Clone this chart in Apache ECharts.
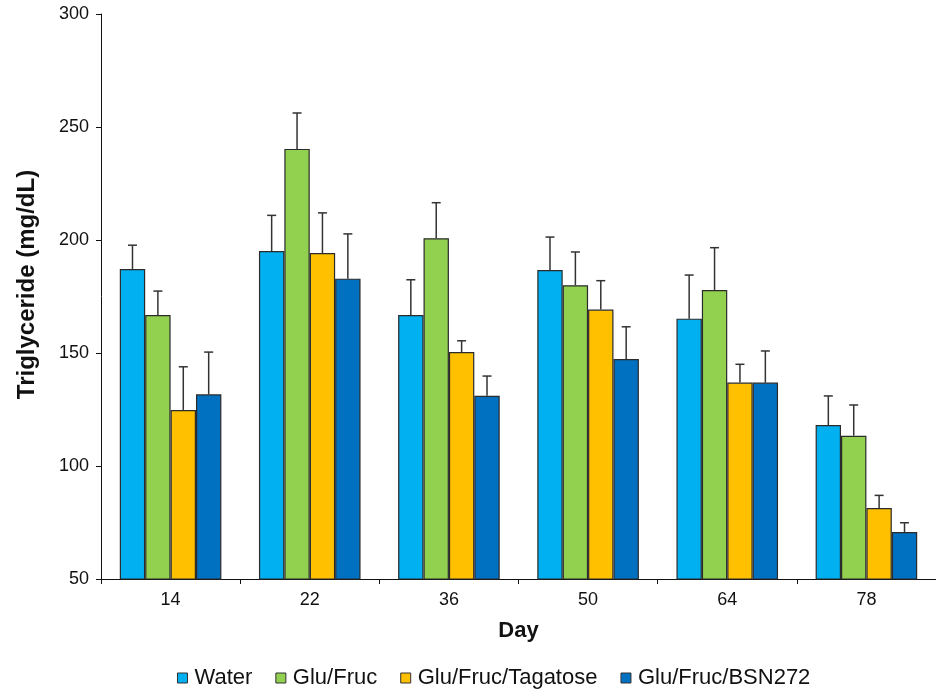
<!DOCTYPE html>
<html>
<head>
<meta charset="utf-8">
<script src="https://cdn.jsdelivr.net/npm/echarts@6/dist/echarts.min.js"></script>
<style>html,body{margin:0;padding:0;background:#fff}#c{width:936px;height:691px}</style>
</head>
<body>
<div id="c"></div>
<script>
const days = ['14', '22', '36', '50', '64', '78'];
const seriesNames = ['Water', 'Glu/Fruc', 'Glu/Fruc/Tagatose', 'Glu/Fruc/BSN272'];
const water = [187.2, 195.1, 166.8, 186.7, 165.2, 118.1];
const gluFruc = [166.8, 240.3, 200.8, 180.0, 177.9, 113.4];
const tagatose = [124.8, 194.2, 150.4, 169.2, 136.9, 81.4];
const bsn272 = [131.7, 182.9, 131.1, 147.3, 136.9, 70.8];
const waterErrTop = [197.7, 210.9, 182.4, 201.3, 184.5, 131.0];
const gluFrucErrTop = [177.4, 256.2, 216.5, 194.7, 196.6, 127.0];
const tagatoseErrTop = [143.9, 212.0, 155.4, 182.0, 145.0, 87.0];
const bsn272ErrTop = [150.4, 202.7, 139.8, 161.6, 150.9, 74.9];
const yTicks = [50, 100, 150, 200, 250, 300];

const colors = ['#00B0F0', '#92D050', '#FFC000', '#0070C0'];
const means = [water, gluFruc, tagatose, bsn272];
const tops = [waterErrTop, gluFrucErrTop, tagatoseErrTop, bsn272ErrTop];
const catGap = 0.27;
const font = 'Liberation Sans, Arial, sans-serif';

const chart = echarts.init(document.getElementById('c'), null, {renderer: 'canvas'});

const barSeries = seriesNames.map((n, i) => ({
  name: n,
  type: 'bar',
  data: means[i],
  barGap: '0%',
  barCategoryGap: (catGap * 100) + '%',
  itemStyle: {color: colors[i], borderColor: '#2b2b2b', borderWidth: 1.2},
  z: 2
}));

const errSeries = seriesNames.map((n, i) => ({
  type: 'custom',
  name: n + ' err',
  z: 3,
  silent: true,
  data: days.map((d, k) => [k, means[i][k], tops[i][k]]),
  encode: {x: 0, y: [1, 2]},
  renderItem: function (params, api) {
    const k = api.value(0);
    const band = api.size([1, 0])[0];
    const bw = band * (1 - catGap) / 4;
    const off = (i - 1.5) * bw;
    const p0 = api.coord([k, api.value(1)]);
    const p1 = api.coord([k, api.value(2)]);
    const x = p0[0] + off;
    const cap = 4.5;
    const st = {stroke: '#333333', lineWidth: 1.5};
    return {
      type: 'group',
      children: [
        {type: 'line', shape: {x1: x, y1: p0[1], x2: x, y2: p1[1]}, style: st},
        {type: 'line', shape: {x1: x - cap, y1: p1[1], x2: x + cap, y2: p1[1]}, style: st}
      ]
    };
  }
}));

chart.setOption({
  animation: false,
  backgroundColor: '#ffffff',
  textStyle: {fontFamily: font},
  grid: {left: 101, top: 14, width: 842, bottom: 112, containLabel: false},
  legend: {
    data: seriesNames,
    top: 662,
    left: 172,
    icon: 'rect',
    itemWidth: 10,
    itemHeight: 10,
    itemGap: 23,
    textStyle: {fontSize: 22, color: '#111', fontFamily: font, padding: [0, 0, 0, 2]},
    itemStyle: {borderColor: '#333', borderWidth: 1}
  },
  xAxis: {
    type: 'category',
    data: days,
    name: 'Day',
    nameLocation: 'middle',
    nameGap: 41,
    nameTextStyle: {fontSize: 22, fontWeight: 'bold', color: '#111', fontFamily: font},
    axisLine: {lineStyle: {color: '#111', width: 1}},
    axisTick: {show: true, length: 5, alignWithLabel: false, lineStyle: {color: '#111'}},
    axisLabel: {fontSize: 18, color: '#111', margin: 12, fontFamily: font},
    splitLine: {show: false}
  },
  yAxis: {
    type: 'value',
    min: yTicks[0],
    max: yTicks[yTicks.length - 1],
    interval: 50,
    name: 'Triglyceride (mg/dL)',
    nameLocation: 'middle',
    nameGap: 62,
    nameTextStyle: {fontSize: 24, fontWeight: 'bold', color: '#111', fontFamily: font, padding: [0, 0, 0, 24]},
    axisLine: {show: true, lineStyle: {color: '#111', width: 1}},
    axisTick: {show: true, length: 5, lineStyle: {color: '#111'}},
    axisLabel: {fontSize: 18, color: '#111', margin: 12, fontFamily: font},
    splitLine: {show: false}
  },
  series: barSeries.concat(errSeries)
});
</script>
</body>
</html>
